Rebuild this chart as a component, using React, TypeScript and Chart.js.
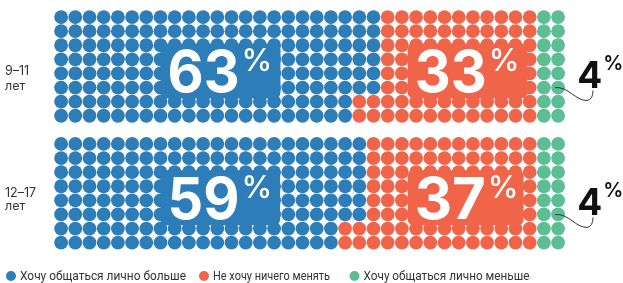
import React, { useEffect, useRef } from 'react';
import { Chart, registerables } from 'chart.js';

Chart.register(...registerables);

// ---- data ----
const categories = [['9–11', 'лет'], ['12–17', 'лет']];
const seriesNames = ['Хочу общаться лично больше', 'Не хочу ничего менять', 'Хочу общаться лично меньше'];
const moreInPerson = [63, 59];   // %
const noChange = [33, 37];       // %
const lessInPerson = [4, 4];     // %
// dot grid layout (dots per group: 36 columns x 8 rows)
const GRID_COLS = 36;
const GRID_ROWS = 8;
const blueFullColumns = [21, 20];
const sharedColumns = [2, 2];
const sharedColumnBlueRows = [6, 6];
const greenColumns = [2, 2];

const COLORS = ['#2d7db8', '#f0654a', '#5cbe94'];
const GROUP_STEP = 9;

type P = { x: number; y: number };

function buildDots() {
  const blue: P[] = [], orange: P[] = [], green: P[] = [];
  categories.forEach((_, g) => {
    const yOff = g * GROUP_STEP;
    const greenStart = GRID_COLS - greenColumns[g];
    for (let c = 0; c < GRID_COLS; c++) {
      for (let r = 0; r < GRID_ROWS; r++) {
        const p = { x: c, y: r + yOff };
        if (c >= greenStart) green.push(p);
        else if (c < blueFullColumns[g]) blue.push(p);
        else if (c < blueFullColumns[g] + sharedColumns[g] && r < sharedColumnBlueRows[g]) blue.push(p);
        else orange.push(p);
      }
    }
  });
  return [blue, orange, green];
}

const overlayPlugin = {
  id: 'waffleOverlay',
  afterDatasetsDraw(chart: any) {
    const ctx: CanvasRenderingContext2D = chart.ctx;
    const xs = chart.scales.x;
    const ys = chart.scales.y;
    const bigFont = '700 58px Inter, sans-serif';
    const pctFont = '500 31px Inter, sans-serif';
    ctx.save();
    categories.forEach((cat, g) => {
      const cy = ys.getPixelForValue(g * GROUP_STEP + (GRID_ROWS - 1) / 2);
      // big labels
      const labels = [
        { v: moreInPerson[g], col: 7.5, color: COLORS[0] },
        { v: noChange[g], col: 24.9, color: COLORS[1] },
      ];
      labels.forEach((l) => {
        const left = xs.getPixelForValue(l.col);
        ctx.font = bigFont;
        const numW = ctx.measureText(String(l.v)).width;
        ctx.font = pctFont;
        const pW = ctx.measureText('%').width;
        const right = left + numW + 2 + pW;
        ctx.fillStyle = l.color;
        ctx.beginPath();
        (ctx as any).roundRect(left - 7, cy - 23, right - left + 12, 55, 6);
        ctx.fill();
        ctx.fillStyle = '#ffffff';
        ctx.textBaseline = 'alphabetic';
        ctx.textAlign = 'left';
        ctx.font = bigFont;
        ctx.fillText(String(l.v), left, cy + 25.5, 72);
        ctx.font = pctFont;
        ctx.fillText('%', left + Math.min(numW, 72) + 2, cy + 5);
      });
      // small label for green share
      const gx = xs.getPixelForValue(GRID_COLS - 0.5) + 12;
      ctx.fillStyle = '#111111';
      ctx.font = '700 37px Inter, sans-serif';
      const fw = ctx.measureText(String(lessInPerson[g])).width;
      ctx.fillText(String(lessInPerson[g]), gx, cy + 21.5);
      ctx.font = '600 20px Inter, sans-serif';
      ctx.fillText('%', gx + fw + 1, cy + 3.5);
      // connector
      const x0 = xs.getPixelForValue(GRID_COLS - 1.5) + 4;
      const y0 = ys.getPixelForValue(g * GROUP_STEP + 5);
      ctx.strokeStyle = '#333333';
      ctx.lineWidth = 1;
      ctx.beginPath();
      ctx.moveTo(x0, y0);
      ctx.bezierCurveTo(x0 + 14, y0 - 1, x0 + 20, y0 + 13, x0 + 32, y0 + 13);
      ctx.quadraticCurveTo(x0 + 38, y0 + 12, x0 + 38, y0 + 3);
      ctx.stroke();
      // category label
      ctx.fillStyle = '#333333';
      ctx.font = '400 12.5px Inter, sans-serif';
      const offs = g === 0 ? [8.5, 24] : [3.5, 17];
      ctx.fillText(cat[0], 5, cy + offs[0]);
      ctx.fillText(cat[1], 5, cy + offs[1]);
    });
    // legend
    const legendX = [11, 204, 354.5];
    const legendW = [166, 117, 166];
    const ly = 276;
    ctx.font = '400 13px Roboto, sans-serif';
    ctx.textBaseline = 'middle';
    seriesNames.forEach((name, i) => {
      ctx.fillStyle = COLORS[i];
      ctx.beginPath();
      ctx.arc(legendX[i], ly, 5, 0, Math.PI * 2);
      ctx.fill();
      ctx.fillStyle = '#333333';
      ctx.fillText(name, legendX[i] + 9, ly + 0.5, legendW[i]);
    });
    ctx.restore();
  },
};

export default function App() {
  const ref = useRef<HTMLCanvasElement>(null);
  useEffect(() => {
    document.body.style.margin = '0';
    const [blue, orange, green] = buildDots();
    const mk = (label: string, data: P[], color: string) => ({
      label,
      data,
      pointBackgroundColor: color,
      backgroundColor: color,
      pointBorderWidth: 0,
      pointRadius: 6.9,
      pointHoverRadius: 6.9,
      pointStyle: 'circle',
      clip: false as any,
    });
    const chart = new Chart(ref.current!, {
      type: 'scatter',
      data: {
        datasets: [
          mk(seriesNames[0], blue, COLORS[0]),
          mk(seriesNames[1], orange, COLORS[1]),
          mk(seriesNames[2], green, COLORS[2]),
        ],
      },
      options: {
        animation: false,
        responsive: true,
        maintainAspectRatio: false,
        layout: { padding: { left: 54, right: 57.8, top: 10, bottom: 33.3 } },
        plugins: { legend: { display: false }, tooltip: { enabled: false } },
        events: [],
        scales: {
          x: { type: 'linear', min: -0.5, max: GRID_COLS - 0.5, display: false },
          y: { type: 'linear', min: -0.5, max: GROUP_STEP + GRID_ROWS - 0.5, reverse: true, display: false },
        },
      },
      plugins: [overlayPlugin],
    });
    return () => chart.destroy();
  }, []);
  return (
    <div style={{ position: 'absolute', left: 0, top: 0, width: 623, height: 283 }}>
      <canvas ref={ref} />
    </div>
  );
}
